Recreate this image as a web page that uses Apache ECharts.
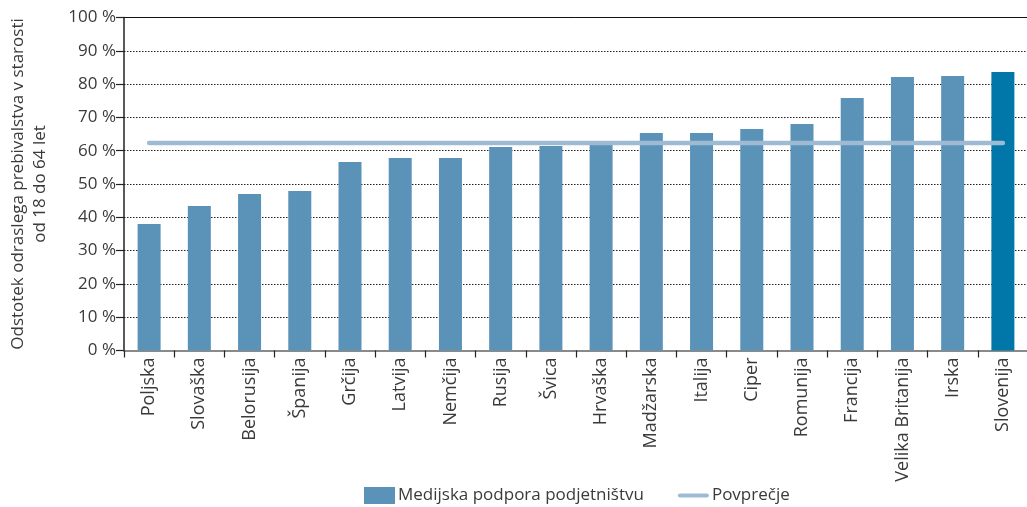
<!DOCTYPE html>
<html>
<head>
<meta charset="utf-8">
<script src="https://cdn.jsdelivr.net/npm/echarts@6/dist/echarts.min.js"></script>
<style>
html,body{margin:0;padding:0;background:#fff;}
#chart{width:1027px;height:507px;}
</style>
</head>
<body>
<div id="chart"></div>
<script>
var categories = ['Poljska','Slovaška','Belorusija','Španija','Grčija','Latvija','Nemčija','Rusija','Švica','Hrvaška','Madžarska','Italija','Ciper','Romunija','Francija','Velika Britanija','Irska','Slovenija'];
var supportValues = [38.0, 43.4, 47.0, 47.9, 56.6, 57.8, 57.8, 61.1, 61.4, 62.0, 65.3, 65.3, 66.5, 68.0, 75.8, 82.1, 82.4, 83.6];
var averageValues = [62.3, 62.3, 62.3, 62.3, 62.3, 62.3, 62.3, 62.3, 62.3, 62.3, 62.3, 62.3, 62.3, 62.3, 62.3, 62.3, 62.3, 62.3];
var highlightCategory = 'Slovenija';
var yTicks = [0, 10, 20, 30, 40, 50, 60, 70, 80, 90, 100];

var FONT = '"Open Sans", "Noto Sans", sans-serif';
var TXT = '#3a3a3a';
var BAR = '#5a92b8';
var BAR_HL = '#0077a8';
var AVG = '#9fbbd3';

var barData = supportValues.map(function (v, i) {
  return categories[i] === highlightCategory ? {value: v, itemStyle: {color: BAR_HL}} : v;
});

var chart = echarts.init(document.getElementById('chart'), null, {renderer: 'canvas'});
chart.setOption({
  animation: false,
  textStyle: {fontFamily: FONT},
  grid: {left: 124, right: -1, top: 17.5, bottom: 156.5, containLabel: false, outerBoundsMode: 'none'},
  legend: {
    top: 487,
    left: 364,
    padding: 0,
    itemWidth: 31,
    itemHeight: 17,
    itemGap: 34,
    textStyle: {fontFamily: FONT, fontSize: 17, color: TXT, padding: [0, 0, 0, -2]},
    data: [
      {name: 'Medijska podpora podjetništvu', icon: 'rect'},
      {name: 'Povprečje', icon: 'path://M2,0 h26 a2,2 0 0 1 0,4 h-26 a2,2 0 0 1 0,-4 z'}
    ]
  },
  xAxis: [{
    type: 'category',
    data: categories,
    axisLine: {show: true, lineStyle: {color: '#8a8a8a', width: 2}},
    axisTick: {show: true, length: 7, lineStyle: {color: '#222', width: 1.2}},
    axisLabel: {rotate: 90, fontSize: 18, color: TXT, margin: 7, fontFamily: FONT, interval: 0},
    splitLine: {show: false}
  }, {
    type: 'category',
    position: 'top',
    data: categories,
    axisLine: {show: true, lineStyle: {color: '#111', width: 1}},
    axisTick: {show: false},
    axisLabel: {show: false}
  }],
  yAxis: {
    type: 'value',
    min: yTicks[0],
    max: yTicks[yTicks.length - 1],
    interval: 10,
    name: 'Odstotek odraslega prebivalstva v starosti\nod 18 do 64 let',
    nameLocation: 'middle',
    nameRotate: 90,
    nameGap: 73,
    nameTextStyle: {fontSize: 17, color: TXT, lineHeight: 22, fontFamily: FONT},
    axisLine: {show: true, lineStyle: {color: '#222', width: 1.5}},
    axisTick: {show: true, length: 8, lineStyle: {color: '#222', width: 1.2}},
    axisLabel: {formatter: '{value} %', fontSize: 17, color: TXT, margin: 8, fontFamily: FONT},
    splitLine: {show: true, lineStyle: {color: '#222', type: [1.5, 1.5], width: 1.2}}
  },
  series: [{
    name: 'Medijska podpora podjetništvu',
    type: 'bar',
    data: barData,
    barWidth: 23,
    itemStyle: {color: BAR},
    z: 2
  }, {
    name: 'Povprečje',
    type: 'line',
    data: averageValues,
    symbol: 'none',
    lineStyle: {color: AVG, width: 4.5, cap: 'round'},
    itemStyle: {color: AVG},
    z: 3
  }]
});
</script>
</body>
</html>
